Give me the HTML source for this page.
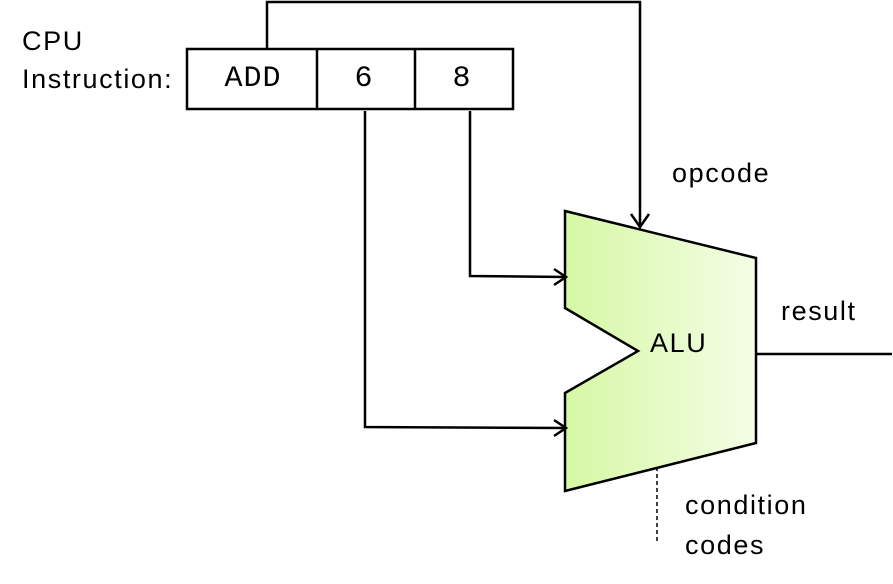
<!DOCTYPE html>
<html><head><style>
body{margin:0;background:#fff;}
svg{display:block;}
text{font-family:"Liberation Sans",sans-serif;font-size:27px;letter-spacing:1.6px;fill:#000;}
.m{font-family:"Liberation Mono",monospace;font-size:30px;letter-spacing:1px;}
</style></head><body>
<svg width="893" height="584" viewBox="0 0 893 584">
<defs>
<linearGradient id="g" x1="0" x2="1" y1="0" y2="0">
<stop offset="0" stop-color="#d6f8a4"/><stop offset="1" stop-color="#f4fde6"/>
</linearGradient>
</defs>
<polygon points="565,211 756,258 756,443 565,491 565,393 638,351 565,308" fill="url(#g)" stroke="#000" stroke-width="2.5"/>
<rect x="187" y="49" width="326" height="60" fill="#fff" stroke="#000" stroke-width="2.5"/>
<line x1="317" y1="49" x2="317" y2="109" stroke="#000" stroke-width="2.5"/>
<line x1="415" y1="49" x2="415" y2="109" stroke="#000" stroke-width="2.5"/>
<text class="m" x="253" y="86" text-anchor="middle">ADD</text>
<text class="m" x="364" y="86" text-anchor="middle">6</text>
<text class="m" x="462" y="86" text-anchor="middle">8</text>
<g fill="none" stroke="#000" stroke-width="2.5">
<polyline points="267,49 267,2 640,2 640,226"/>
<polyline points="631,214 640,227 649,214"/>
<polyline points="365,111 365,427 566,428"/>
<polyline points="554,420 566,428 554,436"/>
<polyline points="470,111 470,276 566,277"/>
<polyline points="554,269 566,277 554,285"/>
<line x1="756" y1="354" x2="892" y2="354"/>
<line x1="657" y1="467" x2="657" y2="541" stroke-dasharray="4,3" stroke-width="1.5"/>
</g>
<text x="22" y="50">CPU</text>
<text x="22" y="88">Instruction:</text>
<text x="672" y="182">opcode</text>
<text x="650" y="352">ALU</text>
<text x="781" y="320">result</text>
<text x="685" y="514">condition</text>
<text x="685" y="554">codes</text>
</svg>
</body></html>
